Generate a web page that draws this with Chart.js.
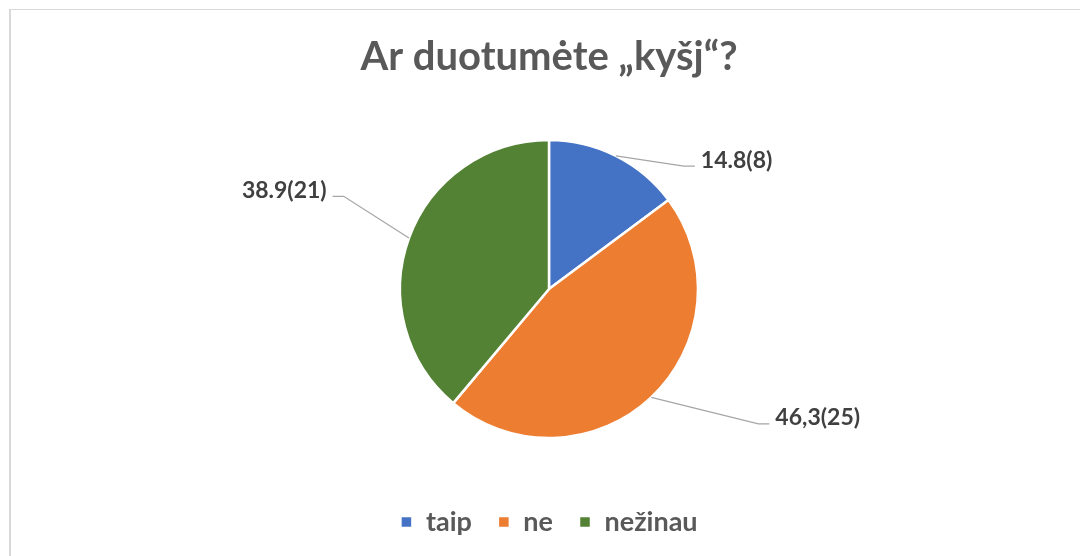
<!DOCTYPE html>
<html>
<head>
<meta charset="utf-8">
<script src="https://cdn.jsdelivr.net/npm/chart.js@4.4.1/dist/chart.umd.min.js"></script>
<style>
  html, body { margin:0; padding:0; background:#fff; }
  #frame { position:absolute; left:9px; top:9px; width:1100px; height:580px;
           border-left:2px solid #d9d9d9; border-top:1px solid #d9d9d9; }
  #wrap { position:absolute; left:0; top:0; width:1080px; height:556px; }
</style>
</head>
<body>
<div id="frame"></div>
<div id="wrap"><canvas id="pie_canvas"></canvas></div>
<script>
// data
var categories = ['taip', 'ne', 'nežinau'];
var answers = [8, 25, 21];
var valueLabels = ['14.8(8)', '46,3(25)', '38.9(21)'];
var sliceColors = ['#4472C4', '#ED7D31', '#548235'];

// where each outside label sits, in units of the pie radius from its centre
var labelSpots = [
    {dx: 0.905, dy: -0.824, side: 1},
    {dx: 1.405, dy: 0.905, side: 1},
    {dx: -1.378, dy: -0.622, side: -1}
];

var leaderLabels = {
    id: 'leaderLabels',
    afterDatasetsDraw: function(chart){
        var ctx = chart.ctx;
        var meta = chart.getDatasetMeta(0);
        ctx.save();
        ctx.font = 'bold 23px Lato';
        ctx.textBaseline = 'middle';
        for (var i = 0; i < meta.data.length; i++) {
            var arc = meta.data[i];
            var r = arc.outerRadius;
            var mid = (arc.startAngle + arc.endAngle) / 2;
            var ax = arc.x + Math.cos(mid) * r;
            var ay = arc.y + Math.sin(mid) * r;
            var spot = labelSpots[i];
            var ex = arc.x + spot.dx * r;
            var ey = arc.y + spot.dy * r;
            var hx = ex + spot.side * 11;
            ctx.strokeStyle = '#a6a6a6';
            ctx.lineWidth = 1.3;
            ctx.beginPath();
            ctx.moveTo(ax, ay);
            ctx.lineTo(ex, ey);
            ctx.lineTo(hx, ey);
            ctx.stroke();
            ctx.fillStyle = '#404040';
            ctx.textAlign = spot.side > 0 ? 'left' : 'right';
            ctx.fillText(valueLabels[i], hx + spot.side * 6, ey - 6);
        }
        ctx.restore();
    }
};

var chartdata = {
    labels: categories,
    datasets: [{
        data: answers,
        backgroundColor: sliceColors,
        borderColor: '#ffffff',
        borderWidth: 2.5
    }]
};

var options = {
    responsive: false,
    animation: false,
    radius: 149,
    layout: { padding: { left: 18, top: 0, right: 0, bottom: 10.5 } },
    plugins: {
        title: {
            display: true,
            text: 'Ar duotumėte „kyšj“?',
            color: '#595959',
            font: { family: 'Lato', size: 40, weight: 'bold' },
            padding: { top: 33, bottom: 14.5 }
        },
        legend: {
            position: 'bottom',
            labels: {
                color: '#595959',
                font: { family: 'Lato', size: 27, weight: 'bold' },
                boxWidth: 12,
                boxHeight: 12,
                padding: 26
            }
        },
        tooltip: { enabled: false }
    }
};

var canvas = document.getElementById('pie_canvas');
canvas.width = 1080;
canvas.height = 556;
var chart = new Chart(canvas, {
    type: 'pie',
    data: chartdata,
    options: options,
    plugins: [leaderLabels]
});
</script>
</body>
</html>
